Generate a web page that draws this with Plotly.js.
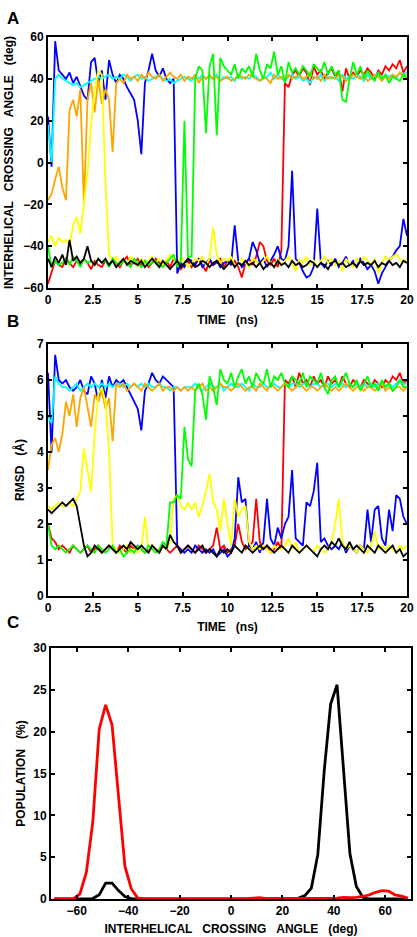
<!DOCTYPE html>
<html>
<head>
<meta charset="utf-8">
<script src="https://cdn.plot.ly/plotly-3.0.1.min.js"></script>
<style>html,body{margin:0;padding:0;background:#fff;}#chart{width:417px;height:937px;}</style>
</head>
<body>
<div id="chart"></div>
<script>
// ---- time axis (ns) ----
const time = [0,0.2,0.4,0.6,0.8,1,1.2,1.4,1.6,1.8,2,2.2,2.4,2.6,2.8,3,3.2,3.4,3.6,3.8,4,4.2,4.4,4.6,4.8,5,5.2,5.4,5.6,5.8,6,6.2,6.4,6.6,6.8,7,7.2,7.4,7.6,7.8,8,8.2,8.4,8.6,8.8,9,9.2,9.4,9.6,9.8,10,10.2,10.4,10.6,10.8,11,11.2,11.4,11.6,11.8,12,12.2,12.4,12.6,12.8,13,13.2,13.4,13.6,13.8,14,14.2,14.4,14.6,14.8,15,15.2,15.4,15.6,15.8,16,16.2,16.4,16.6,16.8,17,17.2,17.4,17.6,17.8,18,18.2,18.4,18.6,18.8,19,19.2,19.4,19.6,19.8,20];

// ---- Panel A: interhelical crossing angle (deg) ----
const angleRed = [-58,-52,-47,-49,-50, -46,-48,-50,-47,-49, -46,-48,-51,-47,-49, -50,-47,-49,-46,-48, -50,-47,-45,-49,-48, -46,-49,-47,-50,-48, -46,-48,-49,-47,-50, -46,-48,-51,-49,-47, -50,-48,-46,-49,-52, -47,-49,-48,-46,-50, -47,-49,-47,-50,-55, -48,-46,-49,-45,-38, -40,-47,-49,-46,-50, -42,38,36,42,44, 41,45,43,37,46, 42,44,40,43,45, 41,44,34,45,40, 43,41,44,42,45, 43,40,44,42,46, 44,47,45,49,43, 46];
const angleBlue = [22,-2,58,44,42, 40,43,38,41,36, 32,30,48,50,38, 44,30,49,42,38, 42,40,36,33,30, 20,4,38,44,52, 44,41,45,40,38, 40,-53,-48,-50,-46, -47,-49,-46,-50,-48, -46,-49,-47,-50,-48, -47,-49,-30,-47,-50, -48,-46,-38,-42,-48, -46,-50,-47,-44,-40, -46,-47,-40,-4,-46, -48,-52,-55,-54,-50, -22,-48,-50,-47,-49, -46,-50,-48,-45,-49, -47,-50,-46,-48,-51, -49,-52,-58,-53,-50, -47,-45,-42,-40,-27, -35];
const angleCyan = [18,0,40,42,40, 39,38,37,38,36, 37,38,39,40,41, 40,41,42,40,41, 40,42,41,39,41, 42,40,41,39,40, 41,42,40,39,40, 38,39,40,41,40, 39,41,40,42,40, 41,40,42,39,41, 40,41,39,42,40, 41,40,42,41,39, 40,41,43,40,42, 40,39,41,42,40, 41,39,40,38,41, 40,42,39,41,40, 41,39,42,40,41, 40,42,41,39,42, 40,41,43,40,42, 41,42,40,43,42, 43];
const angleOrange = [-18,-15,-8,-2,-12, -18,25,30,22,35, -20,30,38,24,40, 28,35,30,5,38, 40,38,42,40,41, 39,42,40,43,41, 40,42,39,41,43, 41,40,42,39,41, 40,42,38,41,40, 42,40,41,39,40, 41,39,40,42,41, 40,42,41,40,39, 41,40,38,42,40, 41,39,42,40,41, 42,40,41,43,40, 41,39,42,40,41, 40,42,41,39,40, 42,41,40,42,39, 40,42,41,39,41, 40,42,41,43,41, 42];
const angleYellow = [-38,-35,-40,-36,-38, -37,-40,-30,-26,-34, -20,-5,18,35,44, 42,-10,-44,-47,-45, -48,-46,-49,-45,-47, -50,-46,-48,-47,-45, -48,-46,-49,-47,-44, -46,-48,-45,-47,-50, -48,-46,-47,-45,-49, -46,-31,-44,-48,-46, -47,-45,-50,-48,-46, -48,-50,-46,-47,-49, -47,-45,-48,-50,-46, -49,-47,-45,-48,-52, -46,-48,-45,-49,-47, -50,-47,-45,-48,-46, -49,-47,-52,-46,-48, -50,-46,-48,-45,-47, -49,-46,-53,-48,-45, -47,-45,-44,-46,-48, -46];
const angleGreen = [-40,-50,-47,-49,-48, -46,-49,-45,-47,-50, -46,-48,-47,-49,-46, -48,-47,-50,-46,-48, -49,-47,-48,-50,-46, -48,-50,-47,-49,-48, -47,-49,-50,-48,-46, -44,-50,-47,20,-45, -45,40,46,44,14, 46,52,13,50,46, 44,42,47,40,45, 43,46,41,52,44, 40,47,45,53,42, 46,38,48,43,45, 42,46,44,41,47, 45,43,48,42,46, 42,44,30,29,40, 48,42,46,40,44, 41,39,43,40,42, 38,41,40,39,42, 40];
const angleBlack = [-46,-50,-45,-48,-44, -49,-37,-47,-45,-48, -46,-40,-47,-49,-46, -48,-46,-49,-47,-50, -48,-46,-49,-47,-48, -49,-47,-50,-48,-46, -48,-50,-47,-49,-51, -49,-47,-50,-48,-46, -48,-50,-49,-47,-48, -50,-48,-47,-49,-51, -49,-47,-50,-48,-49, -47,-49,-48,-50,-48, -51,-49,-48,-50,-47, -49,-48,-50,-47,-49, -48,-50,-49,-47,-48, -50,-48,-49,-51,-48, -47,-49,-48,-50,-49, -48,-50,-47,-49,-48, -49,-47,-50,-48,-49, -47,-49,-48,-50,-47, -48];

// ---- Panel B: RMSD (Å) ----
const rmsdRed = [2.0,1.6,1.5,1.3,1.4, 1.3,1.2,1.4,1.3,1.2, 1.3,1.4,1.2,1.3,1.4, 1.2,1.3,1.4,1.3,1.2, 1.4,1.3,1.2,1.4,1.3, 1.4,1.3,1.2,1.3,1.4, 1.3,1.2,1.4,1.3,1.2, 1.3,1.4,1.2,1.3,1.4, 1.3,1.2,1.4,1.3,1.2, 1.3,1.4,1.9,1.3,1.4, 1.2,1.3,1.4,2.0,1.5, 1.3,1.4,1.5,2.7,1.5, 1.3,1.4,1.2,1.3,1.5, 1.3,6.0,5.9,6.1,5.8, 6.2,5.9,6.0,5.8,6.1, 5.9,6.0,5.8,6.1,5.9, 6.0,5.8,6.1,5.9,5.8, 6.0,5.9,5.8,6.0,5.9, 5.8,6.0,5.9,5.8,6.0, 5.9,6.1,6.0,6.2,5.9, 6.0];
const rmsdBlue = [6.2,4.0,6.7,6.0,5.9, 6.0,5.8,5.7,5.8,6.0, 5.7,5.6,6.1,5.9,5.4, 6.0,5.5,6.1,5.8,6.0, 5.9,6.0,5.8,5.6,5.4, 5.2,4.6,5.7,5.9,6.2, 6.0,5.9,6.1,6.0,5.9, 5.8,1.4,1.3,1.2,1.3, 1.2,1.4,1.3,1.2,1.3, 1.2,1.3,1.1,1.2,1.3, 1.1,1.2,1.6,3.3,2.6, 2.7,1.4,1.3,1.5,1.2, 1.5,2.7,1.6,1.4,1.9, 1.6,2.0,2.2,3.5,1.6, 1.5,1.4,2.6,2.5,2.9, 3.7,1.5,1.6,1.4,1.3, 1.4,1.3,1.5,1.2,1.4, 1.3,1.2,1.4,1.3,2.4, 1.5,2.4,2.5,1.6,1.4, 2.4,1.8,2.8,2.7,2.2, 2.0];
const rmsdCyan = [5.0,4.8,6.1,5.9,5.8, 5.8,5.7,5.8,5.9,5.7, 5.8,5.9,5.8,5.9,5.8, 5.9,5.8,5.9,5.8,5.9, 5.9,5.8,5.9,5.8,5.9, 5.8,5.9,5.8,5.9,5.8, 5.8,5.9,5.8,5.8,5.7, 5.8,5.8,5.7,5.8,5.8, 5.8,5.9,5.8,5.7,5.8, 5.9,5.8,5.8,5.9,5.7, 5.8,5.9,5.8,5.8,5.9, 5.8,5.7,5.9,5.8,5.8, 5.9,5.8,5.8,5.9,5.8, 5.8,5.9,5.8,5.9,5.9, 5.8,5.9,5.9,5.8,5.9, 5.9,5.8,5.9,5.9,5.8, 5.9,5.8,5.9,5.8,5.9, 5.8,5.9,5.8,5.9,5.8, 5.9,5.8,5.9,5.9,5.8, 5.9,5.8,5.9,6.0,5.9, 5.9];
const rmsdOrange = [3.5,4.2,4.4,4.0,4.5, 5.4,5.0,5.6,4.7,5.5, 5.8,5.3,4.7,5.6,5.4, 5.7,5.2,5.5,4.3,5.9, 5.8,5.9,5.7,5.8,5.9, 5.8,5.7,5.9,5.8,5.7, 5.8,5.9,5.7,5.8,5.8, 5.7,5.8,5.7,5.8,5.7, 5.8,5.7,5.8,5.9,5.7, 5.8,5.7,5.8,5.9,5.8, 5.8,5.7,5.8,5.9,5.8, 5.7,5.8,5.8,5.7,5.9, 5.8,5.7,5.9,5.8,5.7, 5.8,5.9,5.8,5.7,5.8, 5.9,5.8,5.7,5.8,5.8, 5.7,5.8,5.9,5.8,5.7, 5.8,5.7,5.8,5.9,5.8, 5.7,5.8,5.8,5.7,5.8, 5.8,5.7,5.8,5.9,5.7, 5.8,5.7,5.8,5.8,5.7, 5.8];
const rmsdYellow = [2.5,2.4,2.5,2.6,2.5, 2.5,2.6,2.5,2.7,2.9, 4.1,3.5,2.9,4.5,5.6, 5.8,5.4,4.0,1.4,1.3, 1.2,1.3,1.4,1.2,1.3, 1.2,1.3,2.2,1.3,1.4, 1.3,1.2,1.4,1.3,1.5, 2.7,2.8,2.5,2.4,2.6, 2.4,2.6,2.2,2.5,2.9, 3.4,2.6,2.4,1.8,2.7, 2.0,1.4,2.7,2.2,2.4, 2.5,1.5,1.3,1.4,1.3, 1.4,1.3,1.2,1.4,1.3, 1.3,1.4,1.6,1.3,1.5, 1.2,1.3,1.4,1.3,1.2, 1.4,1.3,1.2,1.3,1.5, 2.0,2.7,1.5,1.3,1.4, 1.3,1.2,1.4,1.3,1.2, 1.4,1.8,1.3,1.4,1.3, 1.4,1.3,1.2,1.4,1.3, 1.4];
const rmsdGreen = [2.0,1.4,1.3,1.4,1.3, 1.2,1.3,1.4,1.3,1.2, 1.3,1.4,1.3,1.2,1.4, 1.3,1.2,1.3,1.4,1.2, 1.3,1.1,1.2,1.3,1.2, 1.4,1.3,1.2,1.4,1.3, 1.2,1.3,1.5,1.4,2.6, 2.6,2.8,2.7,4.7,3.8, 3.6,5.7,5.9,5.6,4.9, 6.1,5.8,5.3,6.3,6.0, 5.9,6.2,5.8,6.1,6.3, 5.9,6.1,5.8,6.2,6.0, 5.9,6.3,5.8,6.1,6.0, 6.2,5.9,5.8,6.1,6.0, 5.9,6.2,5.8,6.1,6.0, 5.9,6.2,5.8,5.6,6.0, 6.1,5.8,6.0,6.2,5.9, 5.8,6.0,5.7,5.9,6.1, 5.8,5.9,5.7,6.0,5.8, 5.9,5.7,5.8,6.0,5.8, 5.8];
const rmsdBlack = [2.4,2.3,2.4,2.5,2.6, 2.5,2.6,2.7,2.5,2.0, 1.4,1.1,1.2,1.4,1.3, 1.2,1.3,1.4,1.3,1.2, 1.3,1.4,1.3,1.5,1.4, 1.3,1.4,1.3,1.2,1.4, 1.3,1.2,1.4,1.3,1.7, 1.5,1.4,1.2,1.3,1.4, 1.3,1.2,1.3,1.4,1.2, 1.3,1.2,1.1,1.3,1.2, 1.3,1.2,1.4,1.3,1.2, 1.4,1.3,1.2,1.3,1.4, 1.3,1.4,1.3,1.2,1.3, 1.4,1.3,1.2,1.4,1.3, 1.2,1.3,1.4,1.3,1.2, 1.1,1.3,1.4,1.3,1.5, 1.4,1.6,1.4,1.3,1.5, 1.3,1.4,1.3,1.2,1.4, 1.3,1.2,1.4,1.3,1.2, 1.3,1.4,1.2,1.3,1.1, 1.2];

// ---- Panel C: population (%) vs crossing angle (deg) ----
const angleBins = [-68.75,-66.25,-63.75,-61.25,-58.75,-56.25,-53.75,-51.25,-48.75,-46.25,-43.75,-41.25,-38.75,-36.25,-33.75,-31.25,-28.75,-26.25,-23.75,-21.25,-18.75,-16.25,-13.75,-11.25,-8.75,-6.25,-3.75,-1.25,1.25,3.75,6.25,8.75,11.25,13.75,16.25,18.75,21.25,23.75,26.25,28.75,31.25,33.75,36.25,38.75,41.25,43.75,46.25,48.75,51.25,53.75,56.25,58.75,61.25,63.75,66.25,68.75];
const popRed = [0,0,0,0.05,0.6,3.2,9.2,20.3,23.2,20.8,12.3,3.9,1.2,0.1,0,0,0,0,0,0,0,0,0,0,0,0,0,0.05,0,0.05,0.05,0.1,0.15,0.05,0.05,0.1,0.1,0.05,0.1,0.1,0.1,0.1,0.05,0.1,0.1,0.2,0.15,0.2,0.3,0.5,0.8,1.0,0.95,0.5,0.35,0.1];
const popBlack = [0,0,0,0,0,0,0.05,0.5,1.9,1.9,1.0,0.3,0.05,0,0,0,0,0,0,0,0,0,0,0,0,0,0,0,0,0,0,0,0,0,0,0,0,0,0.1,0.4,1.3,5.3,15.3,23.3,25.6,15.5,5.4,1.5,0.2,0,0,0,0,0,0,0];

const timeTicks = [0,2.5,5,7.5,10,12.5,15,17.5,20];
const timeTickText = ['0','2.5','5','7.5','10','12.5','15','17.5','20'];

const COL = {red:'#ff0000', blue:'#0000ff', cyan:'#00ffff', orange:'#ffa500', yellow:'#ffff00', green:'#00ff00', black:'#000000'};

function tr(x, y, color, xa, ya, w) {
  return {x: x, y: y, type: 'scatter', mode: 'lines', xaxis: xa, yaxis: ya,
          line: {color: color, width: w}, hoverinfo: 'skip', showlegend: false};
}

const LW = 1.8;
const traces = [
  tr(time, angleRed, COL.red, 'x', 'y', LW),
  tr(time, angleBlue, COL.blue, 'x', 'y', LW),
  tr(time, angleCyan, COL.cyan, 'x', 'y', LW),
  tr(time, angleOrange, COL.orange, 'x', 'y', LW),
  tr(time, angleYellow, COL.yellow, 'x', 'y', LW),
  tr(time, angleGreen, COL.green, 'x', 'y', LW),
  tr(time, angleBlack, COL.black, 'x', 'y', LW),
  tr(time, rmsdRed, COL.red, 'x2', 'y2', LW),
  tr(time, rmsdBlue, COL.blue, 'x2', 'y2', LW),
  tr(time, rmsdCyan, COL.cyan, 'x2', 'y2', LW),
  tr(time, rmsdOrange, COL.orange, 'x2', 'y2', LW),
  tr(time, rmsdYellow, COL.yellow, 'x2', 'y2', LW),
  tr(time, rmsdGreen, COL.green, 'x2', 'y2', LW),
  tr(time, rmsdBlack, COL.black, 'x2', 'y2', LW),
  tr(angleBins, popBlack, COL.black, 'x3', 'y3', 2.8),
  tr(angleBins, popRed, COL.red, 'x3', 'y3', 2.8)
];

const FONT = 'Liberation Sans, Arial, Helvetica, sans-serif';
const tickFont = {family: FONT, size: 12, color: '#000', weight: 'bold'};
const titleFont = {family: FONT, size: 12, color: '#000', weight: 'bold'};
const S = ' \u00a0\u00a0';

function ax(extra) {
  return Object.assign({
    showline: true, linecolor: '#000', linewidth: 2, mirror: 'ticks',
    ticks: 'inside', ticklen: 4, tickwidth: 2, tickcolor: '#000',
    showgrid: false, zeroline: false, tickfont: tickFont, automargin: false, fixedrange: true
  }, extra);
}

const H = 937, W = 417;
const fx = p => p / W;
const fy = p => 1 - p / H;

const layout = {
  width: W, height: H,
  margin: {l: 0, r: 0, t: 0, b: 0},
  paper_bgcolor: '#fff', plot_bgcolor: '#fff',
  showlegend: false,
  xaxis: ax({domain: [fx(48), fx(407)], anchor: 'y', range: [0, 20], tickvals: timeTicks, ticktext: timeTickText,
    title: {text: 'TIME' + S + '(ns)', font: titleFont, standoff: 9}}),
  yaxis: ax({domain: [fy(288), fy(37)], anchor: 'x', range: [-60, 60], tickvals: [-60,-40,-20,0,20,40,60],
    title: {text: 'INTERHELICAL' + S + 'CROSSING' + S + 'ANGLE' + S + '(deg)', font: titleFont, standoff: 7}}),
  xaxis2: ax({domain: [fx(48), fx(407)], anchor: 'y2', range: [0, 20], tickvals: timeTicks, ticktext: timeTickText,
    title: {text: 'TIME' + S + '(ns)', font: titleFont, standoff: 8}}),
  yaxis2: ax({domain: [fy(596), fy(344)], anchor: 'x2', range: [0, 7], tickvals: [0,1,2,3,4,5,6,7],
    title: {text: 'RMSD' + S + '(Å)', font: titleFont, standoff: 10}}),
  xaxis3: ax({domain: [fx(51), fx(411)], anchor: 'y3', range: [-70, 70], tickvals: [-60,-40,-20,0,20,40,60],
    title: {text: 'INTERHELICAL' + S + 'CROSSING' + S + 'ANGLE' + S + '(deg)', font: titleFont, standoff: 7}}),
  yaxis3: ax({domain: [fy(899), fy(648)], anchor: 'x3', range: [0, 30], tickvals: [0,5,10,15,20,25,30],
    title: {text: 'POPULATION' + S + '(%)', font: titleFont, standoff: 5}}),
  annotations: [
    {text: 'A', x: 5, y: 7},
    {text: 'B', x: 5, y: 310},
    {text: 'C', x: 5, y: 611}
  ].map(a => ({text: a.text, x: fx(a.x), y: fy(a.y), xref: 'paper', yref: 'paper', xanchor: 'left', yanchor: 'top',
    showarrow: false, font: {family: FONT, size: 17, color: '#000', weight: 'bold'}}))
};

Plotly.newPlot('chart', traces, layout, {displayModeBar: false, staticPlot: true});
</script>
</body>
</html>
